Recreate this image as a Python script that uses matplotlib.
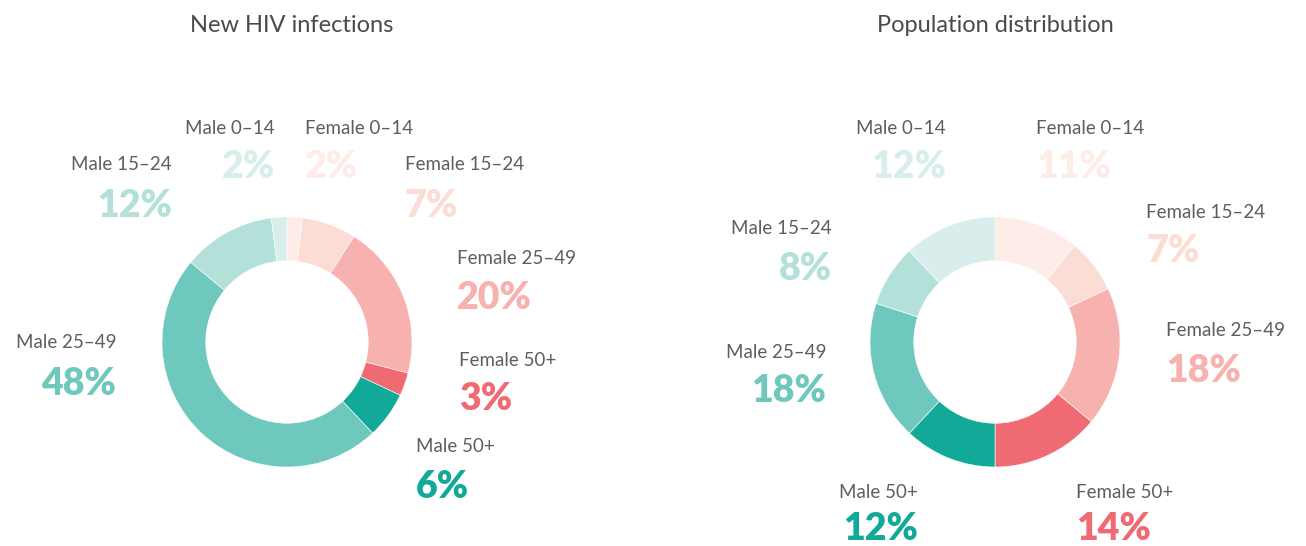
import matplotlib
matplotlib.use("Agg")
import matplotlib.pyplot as plt

W, H = 1306, 546

# ---- data ----
categories = ["Female 0–14", "Female 15–24", "Female 25–49", "Female 50+",
              "Male 50+", "Male 25–49", "Male 15–24", "Male 0–14"]
hiv_infections = [2, 7, 20, 3, 6, 48, 12, 2]
population = [11, 7, 18, 14, 12, 18, 8, 12]
titles = ["New HIV infections", "Population distribution"]

# ---- styles ----
colors = ["#fdece8", "#fbddd5", "#f7b1ae", "#f06a74",
          "#13a999", "#6fc8bd", "#b4e0da", "#d9eeec"]
label_color = "#5e5e5e"
font = ["Lato", "DejaVu Sans"]
plt.rcParams["font.family"] = font

# label anchor positions (pixels): (x, label_y, pct_y, ha)
left_pos = [
    (305, 128, 167, "left"),
    (405, 165, 206, "left"),
    (457, 258, 298, "left"),
    (459, 360, 399, "left"),
    (416, 447, 487, "left"),
    (116, 342, 384, "right"),
    (172, 165, 206, "right"),
    (275, 128, 167, "right"),
]
right_pos = [
    (1036, 128, 167, "left"),
    (1146, 212, 251, "left"),
    (1166, 330, 371, "left"),
    (1076, 493, 529, "left"),
    (918, 493, 529, "right"),
    (826, 352, 391, "right"),
    (832, 228, 269, "right"),
    (946, 128, 167, "right"),
]

fig = plt.figure(figsize=(W / 100, H / 100), dpi=100)

def donut(cx, cy, r, values, title, title_x, positions):
    ax = fig.add_axes([(cx - r) / W, (H - cy - r) / H, 2 * r / W, 2 * r / H])
    ax.pie(values, colors=colors, startangle=90, counterclock=False,
           radius=1, wedgeprops=dict(width=0.35, edgecolor="white", linewidth=0.4))
    ax.set_xlim(-1, 1)
    ax.set_ylim(-1, 1)
    ax.set_aspect("equal")
    ax.axis("off")
    fig.text(title_x / W, 1 - 25 / H, title, ha="center", va="center",
             fontsize=17, color="#4a4a4a")
    for cat, val, col, (x, ly, py, ha) in zip(categories, values, colors, positions):
        fig.text(x / W, 1 - ly / H, cat, ha=ha, va="center",
                 fontsize=13.5, color=label_color, fontweight="normal")
        fig.text(x / W, 1 - py / H, f"{val}%", ha=ha, va="center",
                 fontsize=27, color=col, fontweight="heavy")

donut(287, 342, 125, hiv_infections, titles[0], 292, left_pos)
donut(995, 342, 125, population, titles[1], 995, right_pos)

fig.savefig("out.png", dpi=100, facecolor="white")
